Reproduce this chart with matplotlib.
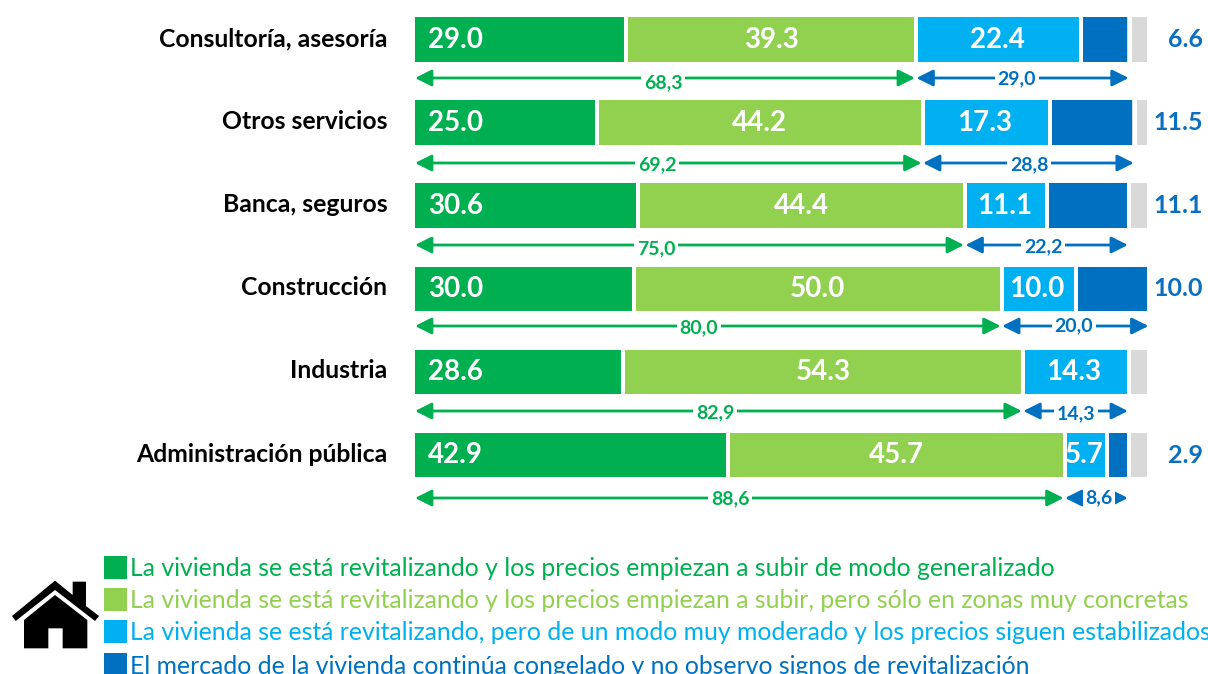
import matplotlib
matplotlib.use("Agg")
import matplotlib.pyplot as plt
from matplotlib.patches import Polygon, Rectangle

plt.rcParams['font.family'] = ['Lato', 'DejaVu Sans']

categories = ["Consultoría, asesoría", "Otros servicios", "Banca, seguros",
              "Construcción", "Industria", "Administración pública"]
s1 = [29.0, 25.0, 30.6, 30.0, 28.6, 42.9]
s2 = [39.3, 44.2, 44.4, 50.0, 54.3, 45.7]
s3 = [22.4, 17.3, 11.1, 10.0, 14.3, 5.7]
s4 = [6.6, 11.5, 11.1, 10.0, 0.0, 2.9]
s5 = [2.7, 2.0, 2.8, 0.0, 2.8, 2.8]
pos_sum = ["68,3", "69,2", "75,0", "80,0", "82,9", "88,6"]
neg_sum = ["29,0", "28,8", "22,2", "20,0", "14,3", "8,6"]
pos_val = [68.3, 69.2, 75.0, 80.0, 82.9, 88.6]
neg_val = [29.0, 28.8, 22.2, 20.0, 14.3, 8.6]
legend_labels = [
    "La vivienda se está revitalizando y los precios empiezan a subir de modo generalizado",
    "La vivienda se está revitalizando y los precios empiezan a subir, pero sólo en zonas muy concretas",
    "La vivienda se está revitalizando, pero de un modo muy moderado y los precios siguen estabilizados",
    "El mercado de la vivienda continúa congelado y no observo signos de revitalización",
]
colors = ["#00B050", "#92D050", "#00B0F0", "#0070C0", "#D9D9D9"]

# layout (pixels)
W, H = 1208, 674
X0, PPU = 415.0, 7.32
Y0, PITCH = 39.5, 83.1
gap_shift = [-1, 1, 2, 2.5, 0]
arrow_y = [78, 163, 245, 326, 411, 498]
pos_label_x = [663, 657, 656, 699, 715, 730]
pos_label_y = [83, 165, 249, 328, 413, 499]
neg_label_x = [1017, 1029, 1043, 1074, 1076, 1099]
neg_label_y = [79, 165, 247, 326, 414, 498]

fig = plt.figure(figsize=(W / 100, H / 100), dpi=100, facecolor="white")
ax = fig.add_axes([0, 0, 1, 1])
ax.set_xlim(-X0 / PPU, (W - X0) / PPU)
ax.set_ylim((H - Y0) / PITCH, -Y0 / PITCH)
ax.axis("off")
h = 44.5 / PITCH
px = 1 / PPU
py = 1 / PITCH


def ypx(v):
    return (v - Y0) / PITCH


def xpx(v):
    return (v - X0) / PPU


series = [s1, s2, s3, s4, s5]
rows = list(range(len(categories)))
left = [0.0] * len(categories)
for k, (vals, col) in enumerate(zip(series, colors)):
    ax.barh(rows, vals, left=left, height=h, color=col, edgecolor="none", zorder=2)
    left = [l + v for l, v in zip(left, vals)]
    for r in rows:
        if left[r] < 99.9:
            ax.vlines(left[r] + gap_shift[k] * px, r - h, r + h, color="white", lw=2.9, zorder=3)

tfs = 20
for i in rows:
    ax.text(xpx(387.5), i - 1 * py, categories[i], ha="right", va="center", fontsize=17.8,
            fontweight="bold", color="black")
    ax.text(xpx(428), i, f"{s1[i]:.1f}", ha="left", va="center", fontsize=tfs, fontweight="bold", color="white", zorder=4)
    ax.text(s1[i] + s2[i] / 2, i, f"{s2[i]:.1f}", ha="center", va="center", fontsize=tfs, fontweight="bold", color="white", zorder=4)
    ax.text(s1[i] + s2[i] + s3[i] / 2, i, f"{s3[i]:.1f}", ha="center", va="center", fontsize=tfs, fontweight="bold", color="white", zorder=4)
    if s4[i] > 0:
        ax.text(xpx(1203), i, f"{s4[i]:.1f}", ha="right", va="center", fontsize=18, fontweight="bold", color="#0B6FBF")

    y = ypx(arrow_y[i])
    ap = dict(arrowstyle="<|-|>,head_length=1.0,head_width=0.5", lw=2.0, shrinkA=0, shrinkB=0)
    ax.annotate("", xy=(0, y), xytext=(pos_val[i], y), arrowprops=dict(ap, color=colors[0]), zorder=4)
    ax.annotate("", xy=(pos_val[i] + 0.2, y), xytext=(pos_val[i] + neg_val[i] + 0.2, y),
                arrowprops=dict(ap, color=colors[3]), zorder=4)
    bbox = dict(boxstyle="square,pad=0.12", fc="white", ec="none")
    ax.text(xpx(pos_label_x[i]), ypx(pos_label_y[i]), pos_sum[i], ha="center", va="center", fontsize=14,
            fontweight="bold", color=colors[0], bbox=bbox, zorder=5)
    ax.text(xpx(neg_label_x[i]), ypx(neg_label_y[i]), neg_sum[i], ha="center", va="center", fontsize=14,
            fontweight="bold", color=colors[3], bbox=bbox, zorder=5)

ov = fig.add_axes([0, 0, 1, 1])
ov.set_xlim(0, W)
ov.set_ylim(H, 0)
ov.axis("off")
ov.patch.set_alpha(0)

legend_y = [569, 601, 633, 666]
for lab, col, y in zip(legend_labels, colors, legend_y):
    ov.add_patch(Rectangle((104, y - 13), 23, 23, fc=col, ec="none"))
    ov.text(130, y, lab, ha="left", va="center", fontsize=17.8, color=col, clip_on=True)

roof = [(36, 228), (165, 122), (218, 165), (218, 125), (258, 125), (258, 198), (297, 228),
        (285, 243), (165, 150), (47, 243)]
body = [(72, 240), (165, 165), (262, 240), (262, 325), (188, 325), (188, 265), (145, 265),
        (145, 325), (72, 325)]
for shape in (roof, body):
    ov.add_patch(Polygon([(x / 3, 540 + y / 3) for x, y in shape], closed=True, fc="black", ec="none"))

fig.savefig("out.png", dpi=100, facecolor="white")
